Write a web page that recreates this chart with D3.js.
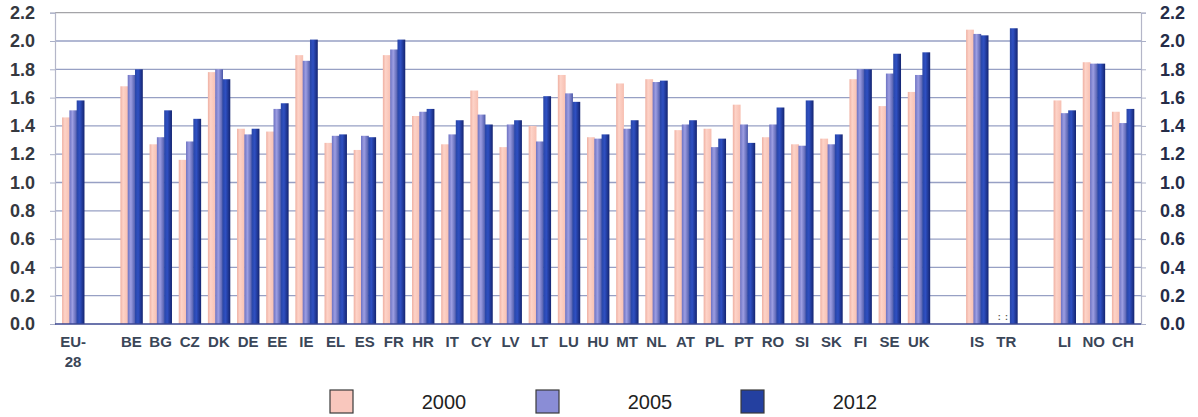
<!DOCTYPE html>
<html lang="en">
<head>
  <meta charset="UTF-8">
  <title>Fertility rates 2000 / 2005 / 2012</title>
  <script src="https://d3js.org/d3.v7.min.js"></script>
  <style>
    body { margin: 0; background: #fff; }
    svg text { font-family: "Liberation Sans", Arial, sans-serif; }
  </style>
</head>
<body>
  <div class="canvas"></div>
  <script>
    const width = 1198;
    const height = 417;

    // categories ("_g" entries are empty spacer slots)
    const slots = ["EU-28", "_g1", "BE", "BG", "CZ", "DK", "DE", "EE", "IE", "EL", "ES", "FR", "HR", "IT", "CY",
      "LV", "LT", "LU", "HU", "MT", "NL", "AT", "PL", "PT", "RO", "SI", "SK", "FI", "SE", "UK", "_g2",
      "IS", "TR", "_g3", "LI", "NO", "CH"];
    const countries = slots.filter(s => !s.startsWith("_g"));

    const years = ["2000", "2005", "2012"];
    // values in the same order as countries (null = not available)
    const v2000 = [1.46, 1.68, 1.27, 1.16, 1.78, 1.38, 1.36, 1.90, 1.28, 1.23, 1.90, 1.47, 1.27, 1.65,
      1.25, 1.40, 1.76, 1.32, 1.70, 1.73, 1.37, 1.38, 1.55, 1.32, 1.27, 1.31, 1.73, 1.54, 1.64,
      2.08, null, 1.58, 1.85, 1.50];
    const v2005 = [1.51, 1.76, 1.32, 1.29, 1.80, 1.34, 1.52, 1.86, 1.33, 1.33, 1.94, 1.50, 1.34, 1.48,
      1.41, 1.29, 1.63, 1.31, 1.38, 1.71, 1.41, 1.25, 1.41, 1.41, 1.26, 1.27, 1.80, 1.77, 1.76,
      2.05, null, 1.49, 1.84, 1.42];
    const v2012 = [1.58, 1.80, 1.51, 1.45, 1.73, 1.38, 1.56, 2.01, 1.34, 1.32, 2.01, 1.52, 1.44, 1.41,
      1.44, 1.61, 1.57, 1.34, 1.44, 1.72, 1.44, 1.31, 1.28, 1.53, 1.58, 1.34, 1.80, 1.91, 1.92,
      2.04, 2.09, 1.51, 1.84, 1.52];
    const yTicks = [0, 0.2, 0.4, 0.6, 0.8, 1.0, 1.2, 1.4, 1.6, 1.8, 2.0, 2.2];

    const series = [v2000, v2005, v2012];

    const svg = d3.select('.canvas')
      .append('svg')
      .attr('width', width)
      .attr('height', height);

    // gradients for the slightly shaded bars
    const defs = svg.append('defs');
    const grads = [
      { id: 'g2000', stops: [[0, '#efb0a2'], [0.35, '#fdd3c8'], [1, '#f7bfb1']] },
      { id: 'g2005', stops: [[0, '#6c72c2'], [0.4, '#9d9ee2'], [1, '#4a57a8']] },
      { id: 'g2012', stops: [[0, '#2946a6'], [0.4, '#2f50c2'], [1, '#142470']] }
    ];
    grads.forEach(g => {
      const lg = defs.append('linearGradient').attr('id', g.id)
        .attr('x1', '0%').attr('x2', '100%').attr('y1', '0%').attr('y2', '0%');
      g.stops.forEach(s => lg.append('stop').attr('offset', s[0]).attr('stop-color', s[1]));
    });

    const [ml, mr, mt, mb] = [55, 1141, 12.7, 324];

    const x = d3.scaleBand()
      .domain(slots)
      .range([ml, mr])
      .paddingInner(0)
      .paddingOuter(0.12);

    const y = d3.scaleLinear()
      .domain([0, 2.2])
      .range([mb, mt]);

    // grid lines
    svg.append('g')
      .selectAll('line')
      .data(yTicks.filter(t => t > 0))
      .enter()
      .append('line')
      .attr('x1', ml)
      .attr('x2', mr)
      .attr('y1', d => y(d))
      .attr('y2', d => y(d))
      .attr('stroke', d => d === 2.2 ? '#a4a4a8' : '#97a0c4')
      .attr('stroke-width', 1.3);

    // axes
    const yAxisL = svg.append('g')
      .attr('transform', `translate(${ml},0)`)
      .call(d3.axisLeft(y).tickValues(yTicks).tickFormat(d3.format('.1f')).tickSize(5).tickPadding(15));
    const yAxisR = svg.append('g')
      .attr('transform', `translate(${mr},0)`)
      .call(d3.axisRight(y).tickValues(yTicks).tickFormat(d3.format('.1f')).tickSize(5).tickPadding(14));

    [yAxisL, yAxisR].forEach(a => {
      a.select('.domain').attr('stroke', '#b4b6c8').attr('stroke-width', 1.2);
      a.selectAll('.tick line').attr('stroke', '#aab0c8');
      a.selectAll('.tick text')
        .attr('font-size', 18)
        .attr('font-weight', 'bold')
        .attr('font-family', '"Liberation Sans", Arial, sans-serif');
    });
    yAxisL.selectAll('.tick text').attr('fill', '#35383f');
    yAxisR.selectAll('.tick text').attr('fill', '#252c48');

    // bars
    const bw = 7.8, bstep = 7.3;
    const rows = [];
    countries.forEach((c, i) => {
      series.forEach((s, k) => {
        if (s[i] != null) rows.push({ c: c, k: k, v: s[i] });
      });
    });

    svg.append('g')
      .selectAll('rect')
      .data(rows)
      .enter()
      .append('rect')
      .attr('x', d => x(d.c) + x.bandwidth() / 2 - 11 + d.k * bstep)
      .attr('y', d => y(d.v))
      .attr('width', bw)
      .attr('height', d => y(0) - y(d.v))
      .attr('fill', d => `url(#g${years[d.k]})`);

    // x baseline
    svg.append('line')
      .attr('x1', ml).attr('x2', mr)
      .attr('y1', mb).attr('y2', mb)
      .attr('stroke', '#3a4690').attr('stroke-width', 1.5);

    // ":" markers for missing data
    svg.append('g')
      .selectAll('text')
      .data(countries.flatMap((c, i) => series.map((s, k) => ({ c: c, k: k, v: s[i] }))).filter(d => d.v == null))
      .enter()
      .append('text')
      .attr('x', d => x(d.c) + x.bandwidth() / 2 - 11 + d.k * bstep + bw / 2)
      .attr('y', mb - 4)
      .attr('text-anchor', 'middle')
      .attr('font-size', 9)
      .attr('font-weight', 'bold')
      .attr('fill', '#555')
      .text(':');

    // category labels
    const labels = svg.append('g')
      .selectAll('text')
      .data(countries)
      .enter()
      .append('text')
      .attr('x', d => x(d) + x.bandwidth() / 2)
      .attr('y', 347)
      .attr('text-anchor', 'middle')
      .attr('font-size', 15)
      .attr('font-weight', 'bold')
      .attr('fill', '#3a4658');
    labels.each(function (d) {
      const t = d3.select(this);
      if (d === 'EU-28') {
        t.append('tspan').attr('x', x(d) + x.bandwidth() / 2).text('EU-');
        t.append('tspan').attr('x', x(d) + x.bandwidth() / 2).attr('dy', 20).text('28');
      } else {
        t.text(d);
      }
    });

    // legend
    const legendX = [330, 536, 741];
    const legendFill = ['#f9c7bd', '#8a8dd6', '#2440a0'];
    const legend = svg.append('g')
      .selectAll('g')
      .data(years)
      .enter()
      .append('g')
      .attr('transform', (d, i) => `translate(${legendX[i]},390)`);
    legend.append('rect')
      .attr('width', 23)
      .attr('height', 23)
      .attr('fill', (d, i) => legendFill[i])
      .attr('stroke', '#3a3a3a')
      .attr('stroke-width', 1.2);
    legend.append('text')
      .attr('x', 114)
      .attr('y', 19)
      .attr('text-anchor', 'middle')
      .attr('font-size', 20)
      .attr('fill', '#222')
      .text(d => d);
  </script>
</body>
</html>
